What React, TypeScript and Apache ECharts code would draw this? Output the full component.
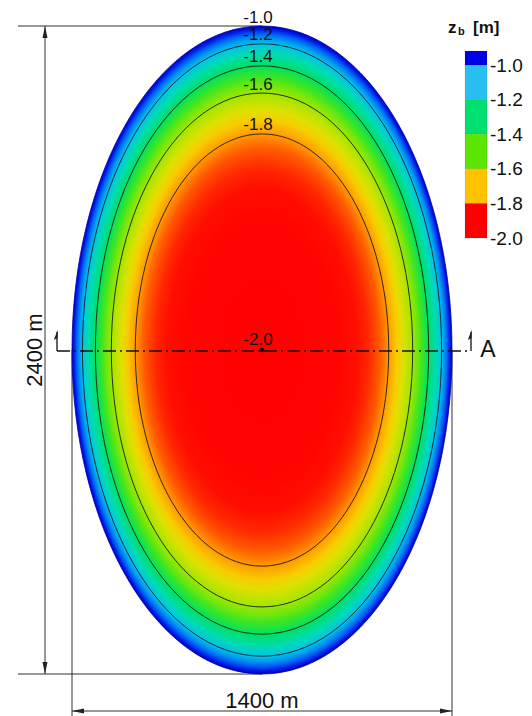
import React, { useEffect, useRef } from "react";
import * as echarts from "echarts";

// ---------- data ----------
const basinWidthM = 1400;
const basinLengthM = 2400;

// contour levels [m] and their position as a fraction of the basin's half-axes
const contourLevels = [-1.0, -1.2, -1.4, -1.6, -1.8, -2.0];
const contourRadius = [1.0, 0.945, 0.877, 0.793, 0.667, 0.0];

// bed level along section A, from the centre (0) to the shore (1)
const sectionR = [0, 0.4, 0.5, 0.56, 0.62, 0.667, 0.71, 0.74, 0.77, 0.793, 0.82, 0.84, 0.86, 0.877, 0.895, 0.915, 0.93, 0.945, 0.96, 0.975, 0.99, 1.0];
const sectionDepth = [-2.0, -1.97, -1.94, -1.9, -1.85, -1.8, -1.75, -1.7, -1.65, -1.6, -1.55, -1.5, -1.45, -1.4, -1.35, -1.3, -1.25, -1.2, -1.15, -1.1, -1.04, -1.0];

// colour bar
const legendLabels = ["-1.0", "-1.2", "-1.4", "-1.6", "-1.8", "-2.0"];
const legendColors = ["#0000e6", "#28bef0", "#00e070", "#5ae600", "#ffc300", "#ff0000"];

// ---------- styles ----------
const FONT = "'Liberation Sans', Arial, Helvetica, sans-serif";
const scaleZ = [-2.0, -1.95, -1.9, -1.85, -1.8, -1.75, -1.7, -1.6, -1.5, -1.4, -1.3, -1.2, -1.15, -1.1, -1.05, -1.0];
const scaleColor = ["#ff0000", "#ff0800", "#ff2800", "#ff5a00", "#ff9a00", "#f8cc00", "#e0e000", "#9ee600", "#40e620", "#00e060", "#00dcb0", "#00c4e8", "#009cf0", "#0064f5", "#0020ee", "#0000c8"];

function hexToRgb(h: string) {
  const n = parseInt(h.slice(1), 16);
  return [(n >> 16) & 255, (n >> 8) & 255, n & 255];
}
function depthColor(z: number) {
  if (z <= scaleZ[0]) return scaleColor[0];
  for (let i = 0; i < scaleZ.length - 1; i++) {
    if (z >= scaleZ[i] && z <= scaleZ[i + 1]) {
      const t = (z - scaleZ[i]) / (scaleZ[i + 1] - scaleZ[i]);
      const a = hexToRgb(scaleColor[i]);
      const b = hexToRgb(scaleColor[i + 1]);
      const c = a.map((v, k) => Math.round(v + (b[k] - v) * t));
      return `rgb(${c[0]},${c[1]},${c[2]})`;
    }
  }
  return scaleColor[scaleColor.length - 1];
}

export default function App() {
  const ref = useRef<HTMLDivElement>(null);
  useEffect(() => {
    if (!ref.current) return;
    const chart = echarts.init(ref.current, null, { renderer: "svg" });

    const stops = sectionR.map((r, i) => ({ offset: r, color: depthColor(sectionDepth[i]) }));

    const frame = (api: any) => {
      const c = api.coord([0, 0]);
      const s = api.size([basinWidthM / 2, basinLengthM / 2]);
      return { cx: c[0], cy: c[1], rx: s[0], ry: s[1] };
    };

    const txt = (x: number, y: number, text: string, size: number, extra: any = {}) => ({
      type: "text",
      x,
      y,
      ...extra,
      style: { text, fontSize: size, fontFamily: FONT, fill: "#111", align: "center", verticalAlign: "middle", ...(extra.style || {}) },
    });
    const ln = (x1: number, y1: number, x2: number, y2: number, extra: any = {}) => ({
      type: "line",
      shape: { x1, y1, x2, y2 },
      style: { stroke: "#333", lineWidth: 1, ...extra },
    });
    const tri = (pts: number[][]) => ({ type: "polygon", shape: { points: pts }, style: { fill: "#222" } });

    // colour bar graphic
    const cbX = 465, cbW = 22, cbTop = 51, cbStep = 34.6, cbFirst = 14;
    const cbEls: any[] = [];
    legendColors.forEach((col, i) => {
      const y0 = i === 0 ? cbTop : cbTop + cbFirst + (i - 1) * cbStep;
      const h = i === 0 ? cbFirst : cbStep;
      cbEls.push({ type: "rect", shape: { x: cbX, y: y0, width: cbW, height: h }, style: { fill: col, stroke: "rgba(0,0,0,0.15)", lineWidth: 0.5 } });
    });
    legendLabels.forEach((lab, i) => {
      cbEls.push({
        type: "text",
        x: 490,
        y: cbTop + cbFirst + i * cbStep,
        style: { text: lab, fontSize: 19, fontFamily: FONT, fill: "#111", align: "left", verticalAlign: "middle" },
      });
    });
    cbEls.push({ type: "text", x: 448, y: 27, style: { text: "z", fontSize: 17, fontWeight: "bold", fontFamily: FONT, fill: "#111", align: "left", verticalAlign: "middle" } });
    cbEls.push({ type: "text", x: 458, y: 31, style: { text: "b", fontSize: 11, fontWeight: "bold", fontFamily: FONT, fill: "#111", align: "left", verticalAlign: "middle" } });
    cbEls.push({ type: "text", x: 473, y: 27, style: { text: "[m]", fontSize: 17, fontWeight: "bold", fontFamily: FONT, fill: "#111", align: "left", verticalAlign: "middle" } });

    chart.setOption({
      animation: false,
      backgroundColor: "#ffffff",
      grid: { left: 72, top: 26, width: 380, height: 648 },
      xAxis: { type: "value", min: -basinWidthM / 2, max: basinWidthM / 2, show: false },
      yAxis: { type: "value", min: -basinLengthM / 2, max: basinLengthM / 2, show: false },
      graphic: cbEls,
      series: [
        {
          // dimension lines (under the basin)
          type: "custom",
          z: 1,
          silent: true,
          data: [[0, 0]],
          renderItem: (_p: any, api: any) => {
            const f = frame(api);
            const L = f.cx - f.rx, R = f.cx + f.rx, T = f.cy - f.ry, B = f.cy + f.ry;
            const dx = 45, dy = 711;
            return {
              type: "group",
              children: [
                ln(18, T, f.cx, T),
                ln(18, B, f.cx, B),
                ln(dx, T, dx, B),
                tri([[dx, T], [dx - 2.5, T + 12], [dx + 2.5, T + 12]]),
                tri([[dx, B], [dx - 2.5, B - 12], [dx + 2.5, B - 12]]),
                ln(L, f.cy, L, 716),
                ln(R, f.cy, R, 716),
                ln(L, dy, R, dy),
                tri([[L, dy], [L + 12, dy - 2.5], [L + 12, dy + 2.5]]),
                tri([[R, dy], [R - 12, dy - 2.5], [R - 12, dy + 2.5]]),
                txt(34, f.cy, "2400 m", 22, { rotation: Math.PI / 2 }),
                txt(f.cx, 700, "1400 m", 22),
              ],
            };
          },
        },
        {
          // bed level field
          type: "custom",
          z: 2,
          silent: true,
          data: [[0, 0]],
          renderItem: (_p: any, api: any) => {
            const f = frame(api);
            return {
              type: "ellipse",
              shape: f,
              style: { fill: new echarts.graphic.RadialGradient(0.5, 0.5, 0.5, stops), stroke: "#0000a0", lineWidth: 0.8 },
            };
          },
        },
        {
          // contour lines and labels
          type: "custom",
          z: 3,
          silent: true,
          data: contourLevels.map((z, i) => [z, contourRadius[i]]),
          renderItem: (p: any, api: any) => {
            const f = frame(api);
            const r = api.value(1);
            const lev = contourLevels[p.dataIndex].toFixed(1);
            const children: any[] = [];
            if (r > 0) {
              if (r < 1) {
                children.push({
                  type: "ellipse",
                  shape: { cx: f.cx, cy: f.cy, rx: f.rx * r, ry: f.ry * r },
                  style: { fill: "none", stroke: "#1a1a1a", lineWidth: 0.9 },
                });
              }
              children.push(txt(f.cx - 4, f.cy - f.ry * r - 9, lev, 17));
            } else {
              children.push({ type: "circle", shape: { cx: f.cx, cy: f.cy, r: 2.3 }, style: { fill: "#111" } });
              children.push(txt(f.cx - 4, f.cy - 11, lev, 17));
            }
            return { type: "group", children };
          },
        },
        {
          // section A
          type: "custom",
          z: 4,
          silent: true,
          data: [[0, 0]],
          renderItem: (_p: any, api: any) => {
            const f = frame(api);
            const y = f.cy + 1;
            const xl = f.cx - f.rx - 15;
            const xr = f.cx + f.rx + 19;
            const top = y - 21;
            return {
              type: "group",
              children: [
                ln(xl, y, xr, y, { stroke: "#111", lineWidth: 1.4, lineDash: [13, 4, 2, 4] }),
                ln(xl, y, xl, top + 2, { stroke: "#111", lineWidth: 1.3 }),
                ln(xr, y, xr, top + 2, { stroke: "#111", lineWidth: 1.3 }),
                tri([[xl + 0.6, top], [xl - 3.2, top + 10], [xl + 0.6, top + 8]]),
                tri([[xr + 0.6, top], [xr - 3.2, top + 10], [xr + 0.6, top + 8]]),
                txt(xr + 17, y - 2, "A", 23),
              ],
            };
          },
        },
      ],
    });
    return () => chart.dispose();
  }, []);
  return <div ref={ref} style={{ position: "fixed", left: 0, top: 0, width: 532, height: 716 }} />;
}
